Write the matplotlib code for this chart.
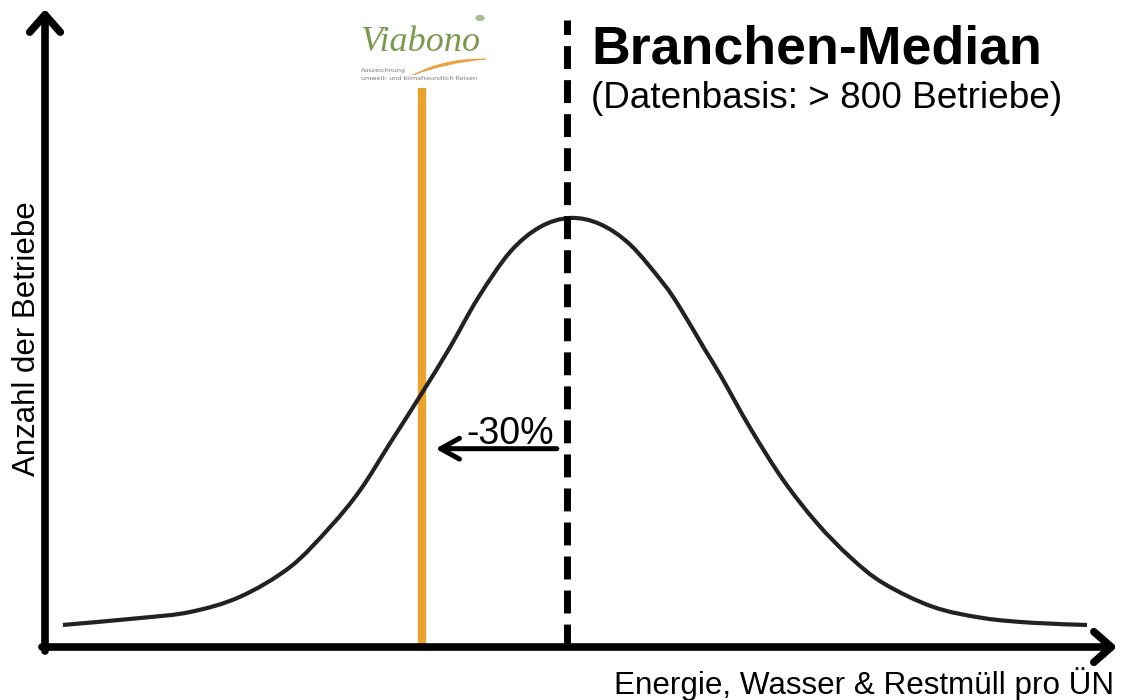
import matplotlib
matplotlib.use("Agg")
import numpy as np
import matplotlib.pyplot as plt
from matplotlib.path import Path
from matplotlib.patches import PathPatch, Circle

# ---- data ----
# x: consumption index (industry median = 100), y: relative number of businesses (peak = 100)
curve_x = [-4.3, 11.6, 22.0, 32.3, 42.7, 51.0, 57.2, 63.4, 70.0, 75.8, 81.6, 88.2, 94.4,
           100.6, 106.8, 113.1, 119.9, 123.4, 128.6, 131.7, 137.9, 144.7, 151.7, 158.6,
           165.4, 175.7, 186.1, 196.4, 207.6]
curve_y = [5.8, 7.4, 8.8, 12.3, 19.2, 28.5, 37.0, 47.9, 59.5, 70.1, 81.5, 92.1, 97.9,
           100.0, 98.6, 93.8, 84.9, 79.2, 69.4, 63.7, 51.4, 39.4, 29.4, 21.5,
           15.5, 10.0, 7.4, 6.3, 5.8]
median_x = 100
viabono_x = 70          # 30 % below the median
reduction_label = "-30%"
title = "Branchen-Median"
subtitle = "(Datenbasis: > 800 Betriebe)"
ylabel = "Anzahl der Betriebe"
xlabel = "Energie, Wasser & Restmüll pro ÜN"

W, H = 1121, 700
fig = plt.figure(figsize=(W / 100, H / 100), dpi=100)
fig.patch.set_facecolor("white")
ax = fig.add_axes([0, 0, 1, 1])
ax.set_xlim(-17.32, 214.63)
ax.set_ylim(-11.57, 150.46)
ax.axis("off")

def fp(px, py):
    """pixel (from top-left) -> figure fraction"""
    return (px / W, 1 - py / H)

# bell curve: smooth Catmull-Rom path through the read points
P = np.column_stack([curve_x, curve_y])
Pe = np.vstack([P[0], P, P[-1]])
verts = [P[0]]
codes = [Path.MOVETO]
for i in range(1, len(Pe) - 2):
    p0, p1, p2, p3 = Pe[i - 1], Pe[i], Pe[i + 1], Pe[i + 2]
    verts += [p1 + (p2 - p0) / 6, p2 - (p3 - p1) / 6, p2]
    codes += [Path.CURVE4] * 3
ax.add_patch(PathPatch(Path(verts, codes), facecolor="none", edgecolor="#222222",
                       lw=3.0, capstyle="butt", joinstyle="round", zorder=3))

# Viabono (orange) line
ax.plot([viabono_x, viabono_x], [0.7, 130.1], color="#EBA22E", lw=6.0,
        solid_capstyle="butt", zorder=2)

# median dashed line
ax.plot([median_x, median_x], [0.7, 145.8], color="black", lw=5.0,
        dashes=(3.3, 1.6), zorder=4)

# axes arrows
arrow_kw = dict(arrowstyle="->,head_length=1.25,head_width=1.1", lw=5.5,
                color="black", shrinkA=0, shrinkB=0, mutation_scale=10,
                capstyle="round", joinstyle="round")
ax.annotate("", xy=fp(45, 9), xytext=fp(45, 651), xycoords="figure fraction",
            textcoords="figure fraction", arrowprops=arrow_kw)
ax.annotate("", xy=fp(1117, 647), xytext=fp(42, 647), xycoords="figure fraction",
            textcoords="figure fraction", arrowprops=arrow_kw)

# -30% arrow
ax.annotate("", xy=(viabono_x + 2.8, 46.6), xytext=(median_x - 2.1, 46.6),
            arrowprops=dict(arrowstyle="->,head_length=1.35,head_width=0.75", lw=3.6,
                            color="black", shrinkA=0, shrinkB=0, mutation_scale=10,
                            capstyle="round", joinstyle="round"))
fig.text(*fp(510, 444), reduction_label, fontsize=27, family="Liberation Sans",
         ha="center", va="baseline")

# titles
fig.text(*fp(591, 63), title, fontsize=38.6, fontweight="bold", family="Liberation Sans",
         ha="left", va="baseline")
fig.text(*fp(591, 108), subtitle, fontsize=26.6, family="Liberation Sans",
         ha="left", va="baseline")

# axis labels
fig.text(*fp(27, 339), ylabel, fontsize=22.5, family="Liberation Sans", rotation=90,
         ha="center", va="center")
fig.text(*fp(1114, 694), xlabel, fontsize=22.6, family="Liberation Sans",
         ha="right", va="baseline")

# Viabono logo
fig.text(*fp(360, 51), "Viabono", fontsize=26, style="italic", family="Liberation Serif",
         color="#7C9A4E", ha="left", va="baseline")
fig.add_artist(Circle(fp(480, 18), 4 / W, transform=fig.transFigure,
                      color="#A9BE8E", zorder=5))
sv = [fp(413, 75), fp(445, 58), fp(486, 59), fp(445, 63), fp(413, 75)]
sc = [Path.MOVETO, Path.CURVE3, Path.CURVE3, Path.CURVE3, Path.CURVE3]
fig.add_artist(PathPatch(Path(sv, sc), transform=fig.transFigure,
                         facecolor="#E8A23A", edgecolor="#E8A23A", lw=0.5))
fig.text(*fp(361, 72), "Auszeichnung", fontsize=4.6, family="DejaVu Sans",
         color="#7a7a7a", ha="left", va="baseline")
fig.text(*fp(361, 80), "umwelt- und klimafreundlich Reisen", fontsize=4.6,
         family="DejaVu Sans", color="#7a7a7a", ha="left", va="baseline")

fig.savefig("out.png", dpi=100, facecolor="white")
